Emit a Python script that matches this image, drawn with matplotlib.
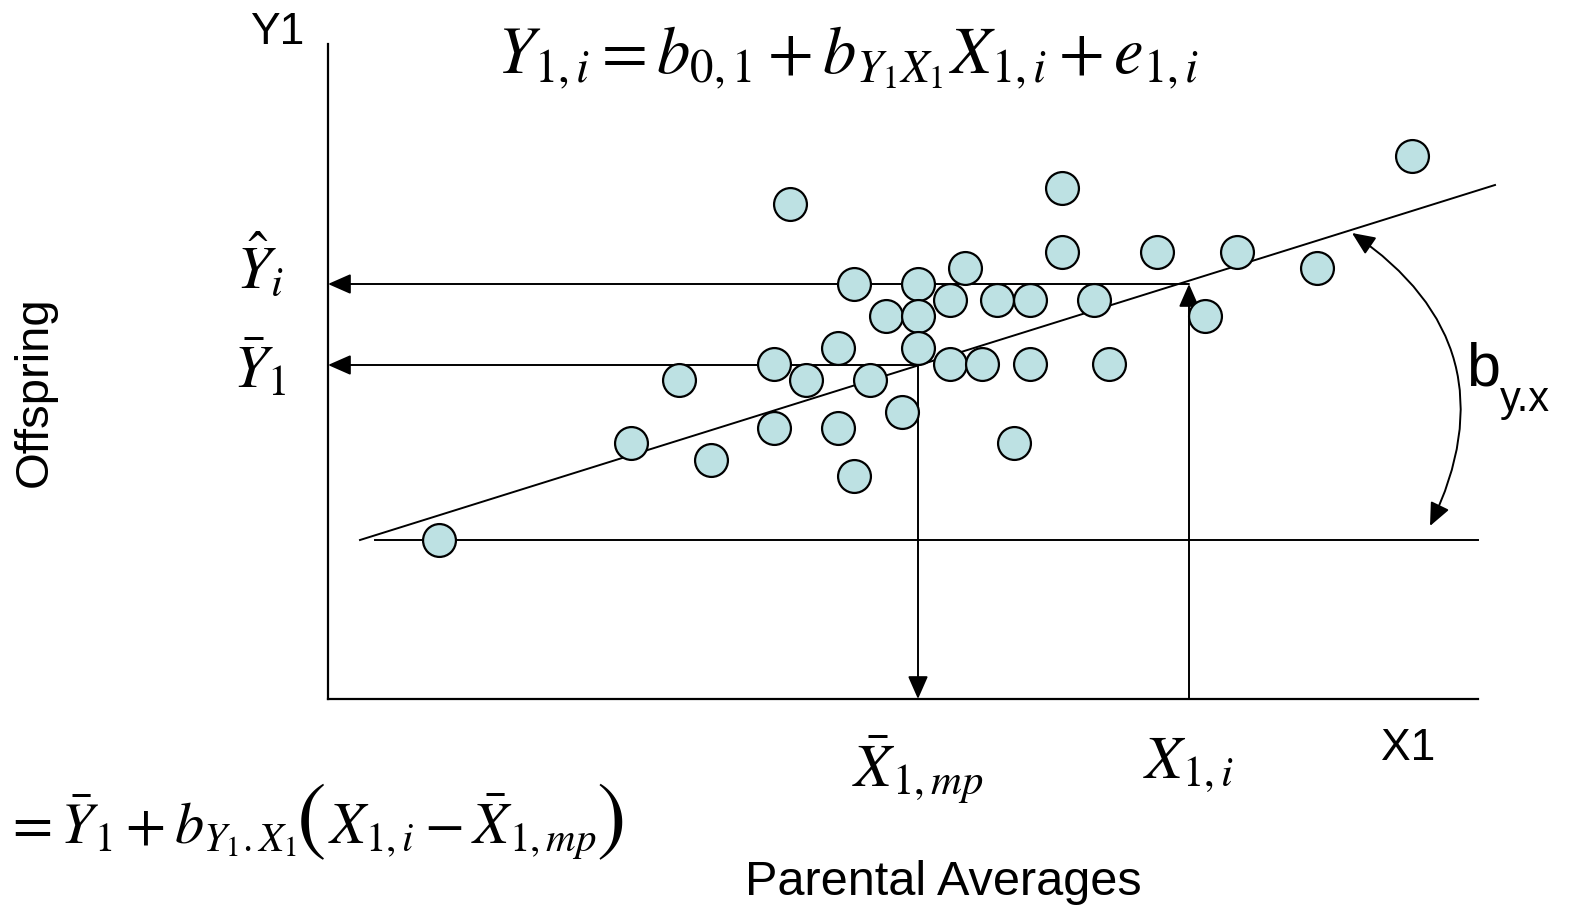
import matplotlib
matplotlib.use("Agg")
import matplotlib.pyplot as plt
from matplotlib.patches import FancyArrowPatch
from matplotlib.transforms import offset_copy

plt.rcParams['font.family'] = ['Liberation Sans', 'DejaVu Sans']
plt.rcParams['mathtext.fontset'] = 'stix'

# data (units: parental average on x, offspring on y)
pts_x = [46.2, 73.4, 108.4, 73.4, 82.9, 90.9, 63.7, 52.6, 59.0, 62.2, 66.9, 70.2,
         76.6, 55.8, 59.0, 87.7, 98.9, 51.0, 59.0, 44.6, 62.2, 65.4, 70.2, 78.1,
         35.1, 47.8, 54.2, 57.4, 44.6, 51.0, 30.3, 68.6, 38.3, 52.6, 11.1]
pts_y = [49.5, 51.1, 54.3, 44.7, 44.7, 44.7, 43.1, 41.5, 41.5, 39.9, 39.9, 39.9,
         39.9, 38.3, 38.3, 38.3, 43.1, 35.1, 35.1, 33.5, 33.5, 33.5, 33.5, 33.5,
         31.9, 31.9, 31.9, 28.7, 27.1, 27.1, 25.6, 25.6, 23.9, 22.3, 15.9]
reg_x = [3.2, 116.7]
reg_y = [15.9, 51.4]
base_x = [4.7, 115.0]
base_y = 15.9
axis_x_end = 115.0
axis_y_end = 65.5
x_mean, y_mean = 59.0, 33.4
x_i, y_hat = 86.1, 41.5
arc_start = (102.4, 46.6)
arc_end = (110.2, 17.3)

fig = plt.figure(figsize=(15.72, 9.12), dpi=100)
ax = fig.add_axes([0, 0, 1, 1])
ax.set_xlim(-32.8, 124.4)
ax.set_ylim(-21.2, 70.0)
ax.axis('off')

lw = 1.4
# axes
ax.plot([0, 0], [0, axis_y_end], color='black', lw=1.6, zorder=2)
ax.plot([0, axis_x_end], [0, 0], color='black', lw=1.6, zorder=2)
# regression line and baseline
ax.plot(reg_x, reg_y, color='black', lw=lw, zorder=2)
ax.plot(base_x, [base_y, base_y], color='black', lw=lw, zorder=2)

ap = dict(arrowstyle='-|>,head_length=0.5,head_width=0.22', color='black', lw=lw,
          mutation_scale=28, shrinkA=0, shrinkB=0)
ax.annotate('', xy=(0, y_hat), xytext=(x_i, y_hat), arrowprops=ap, zorder=2)
ax.annotate('', xy=(0, y_mean), xytext=(x_mean, y_mean), arrowprops=ap, zorder=2)
ax.annotate('', xy=(x_mean, 0), xytext=(x_mean, y_mean), arrowprops=ap, zorder=2)
ax.annotate('', xy=(x_i, y_hat), xytext=(x_i, 0), arrowprops=ap, zorder=2)

arc = FancyArrowPatch(arc_start, arc_end, connectionstyle='arc3,rad=-0.43',
                      arrowstyle='<|-|>,head_length=0.5,head_width=0.22',
                      mutation_scale=28, color='black', lw=lw, zorder=2,
                      shrinkA=0, shrinkB=0)
ax.add_patch(arc)

ax.scatter(pts_x, pts_y, s=560, facecolor='#BDE1E3', edgecolor='black',
           linewidths=1.6, zorder=3)

# texts
ax.text(-5.1, 66.8, 'Y1', fontsize=32, ha='center', va='center')
ax.text(52.0, 64.2, r'$Y_{1,i}=b_{0,1}+b_{Y_1X_1}X_{1,i}+e_{1,i}$', fontsize=48,
        ha='center', va='center')
ax.text(-29.3, 30.8, 'Offspring', fontsize=34, rotation=90, ha='center', va='center')
ax.text(-6.8, 43.3, r'$\hat{Y}_i$', fontsize=44, ha='center', va='center')
ax.text(-6.8, 33.0, r'$\bar{Y}_1$', fontsize=44, ha='center', va='center')
ax.text(59.0, -7.0, r'$\bar{X}_{1,mp}$', fontsize=44, ha='center', va='center')
ax.text(86.0, -6.5, r'$X_{1,i}$', fontsize=44, ha='center', va='center')
ax.text(108.0, -4.8, 'X1', fontsize=32, ha='center', va='center')
ax.text(61.5, -18.3, 'Parental Averages', fontsize=35, ha='center', va='center')

# bottom-left equation, assembled piece by piece so the brackets can be tall
renderer = fig.canvas.get_renderer()
pieces = [(r'$=\bar{Y}_1+b_{Y_1.X_1}$', 42, None, 0),
          ('(', 64, 'STIXGeneral', 2),
          (r'$X_{1,i}-\bar{X}_{1,mp}$', 42, None, 0),
          (')', 64, 'STIXGeneral', 2)]
trans = ax.transData
x0, y0 = -32.4, -12.6
for txt, fs, fam, pad in pieces:
    kw = dict(fontsize=fs, ha='left', va='center', transform=trans)
    if fam:
        kw['family'] = fam
    t = ax.text(x0, y0 + (0.3 if fam else 0), txt, **kw)
    bb = t.get_window_extent(renderer)
    trans = offset_copy(trans, fig=fig, x=bb.width + pad, y=0, units='dots')

# slope label
ax.text(113.8, 33.0, 'b', fontsize=44, ha='left', va='center')
ax.text(117.2, 30.0, 'y.x', fontsize=30, ha='left', va='center')

fig.savefig('out.png', dpi=100)
